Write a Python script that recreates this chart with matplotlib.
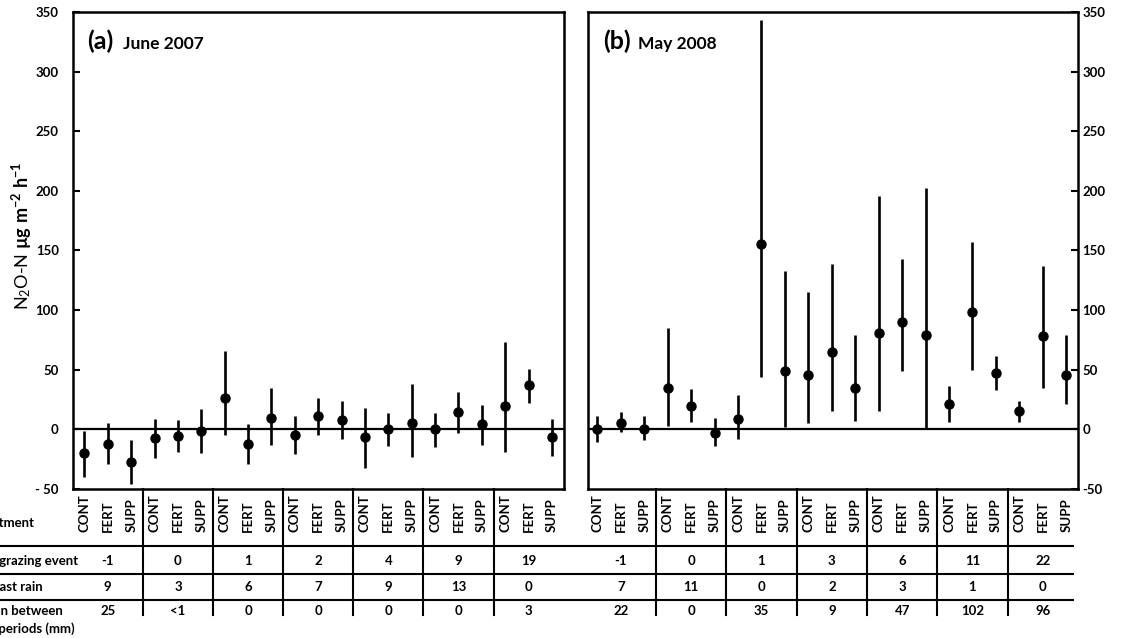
"""N2O-N flux per treatment, June 2007 vs May 2008."""

import matplotlib
matplotlib.use("Agg")
import matplotlib.pyplot as plt
from matplotlib import transforms
from matplotlib.lines import Line2D

plt.rcParams["font.family"] = ["Lato", "DejaVu Sans"]
plt.rcParams["mathtext.fontset"] = "custom"
plt.rcParams["mathtext.rm"] = "Lato"
plt.rcParams["mathtext.bf"] = "Lato:bold"
plt.rcParams["mathtext.it"] = "Lato:italic"

treatments = ["CONT", "FERT", "SUPP"]

june_mean = [-20, -12, -27.6, -7.4, -5.7, -1, 26.7, -12, 9.4, -4.6, 10.8,
             7.7, -6.6, 0.2, 5.2, -0.1, 14.7, 4.3, 19.5, 37.5, -6.5]
june_low = [-40, -29, -46, -24, -18.6, -19.7, -4.6, -28.7, -12.7, -20.6, -4.6,
            -8.3, -32.6, -13.9, -22.8, -15, -2.7, -12.7, -18.6, 22, -22]
june_high = [-1, 5, -9, 8.5, 8, 17.5, 66, 4.6, 35, 10.8, 26,
             24, 17.8, 13.6, 38, 13.6, 31, 20.8, 73, 51, 8.8]

may_mean = [0.2, 5.7, 0.2, 34.3, 19.5, -2.7, 9.1, 155.6, 49.2, 45.8, 64.9,
            35.1, 81.1, 90.3, 79.2, 21.2, 98.7, 47.2, 15.3, 78.3, 46]
may_low = [-10.5, -1.8, -8.8, 3.2, 6.6, -13.6, -8.3, 43.9, 2.4, 5.5, 15.3,
           7.4, 15.3, 48.6, 1.3, 6.3, 49.4, 33.4, 6.3, 34.6, 21]
may_high = [10.8, 14.7, 10.8, 84.7, 33.8, 9.4, 28.7, 343, 133, 115, 139,
            78.8, 196, 143, 202, 36, 157, 61.8, 23.7, 137.4, 79]

june_days_grazing = ["-1", "0", "1", "2", "4", "9", "19"]
june_days_rain = ["9", "3", "6", "7", "9", "13", "0"]
june_rain_mm = ["25", "<1", "0", "0", "0", "0", "3"]

may_days_grazing = ["-1", "0", "1", "3", "6", "11", "22"]
may_days_rain = ["7", "11", "0", "2", "3", "1", "0"]
may_rain_mm = ["22", "0", "35", "9", "47", "102", "96"]

yticks = [-50, 0, 50, 100, 150, 200, 250, 300, 350]

W, H = 1122, 638
BOLD = dict(fontsize=9.5, fontweight="bold")


def fx(px):
    return px / W


def fy(py):
    return 1 - py / H


def panel(ax, mean, low, high, title, date, grazing, rain, rain_mm):
    n = len(mean)
    x = list(range(1, n + 1))
    yerr = [[m - lo for m, lo in zip(mean, low)],
            [hi - m for m, hi in zip(mean, high)]]
    ax.axhline(0, color="black", lw=1.6, zorder=1)
    ax.errorbar(x, mean, yerr=yerr, fmt="o", color="black", ms=6.5,
                elinewidth=1.9, capsize=0, zorder=3)
    ax.set_ylim(-50, 350)
    ax.set_yticks(yticks)
    for s in ax.spines.values():
        s.set_linewidth(1.8)
    ax.set_xticks([])
    ax.text(0.03, 0.922, title, transform=ax.transAxes, fontsize=18,
            fontweight="bold", va="baseline")
    ax.text(0.102, 0.922, date, transform=ax.transAxes, fontsize=12.5,
            fontweight="bold", va="baseline")

    # table under the panel: x follows the data, y is in figure pixels
    tr = transforms.blended_transform_factory(ax.transData, fig.transFigure)
    for i in x:
        ax.text(i, fy(532), treatments[(i - 1) % 3], transform=tr,
                rotation=90, ha="center", va="bottom", **BOLD)
    ngroups = n // 3
    for g in range(1, ngroups):
        b = 3 * g + 0.5
        ax.add_line(Line2D([b, b], [fy(489), fy(615)], transform=tr,
                           color="black", lw=1.5, clip_on=False))
    for g in range(ngroups):
        c = 3 * g + 2
        ax.text(c, fy(561), grazing[g], transform=tr, ha="center",
                va="center", **BOLD)
        ax.text(c, fy(587), rain[g], transform=tr, ha="center",
                va="center", **BOLD)
        ax.text(c, fy(611), rain_mm[g], transform=tr, ha="center",
                va="center", **BOLD)


fig = plt.figure(figsize=(W / 100, H / 100), dpi=100)
ax_a = fig.add_axes([fx(72.7), fy(489), fx(491), (489 - 12) / H])
ax_b = fig.add_axes([fx(588), fy(489), fx(490), (489 - 12) / H])
ax_a.set_xlim(0.5, 21.5)
ax_b.set_xlim(0.6, 21.5)

panel(ax_a, june_mean, june_low, june_high, "(a)", "June 2007",
      june_days_grazing, june_days_rain, june_rain_mm)
panel(ax_b, may_mean, may_low, may_high, "(b)", "May 2008",
      may_days_grazing, may_days_rain, may_rain_mm)

ax_a.set_yticklabels(["- 50"] + [str(v) for v in yticks[1:]], **BOLD)
ax_a.tick_params(axis="y", direction="in", length=5, width=1.5, pad=10)
ax_b.yaxis.tick_right()
ax_b.set_yticklabels([str(v) for v in yticks], **BOLD)
ax_b.tick_params(axis="y", direction="in", length=5, width=1.5, pad=3)

for py in (546, 574, 600):
    fig.add_artist(Line2D([0, fx(1073)], [fy(py), fy(py)], color="black",
                          lw=1.5, transform=fig.transFigure))

fig.text(fx(35), fy(523), "Treatment", ha="right", va="center", **BOLD)
fig.text(fx(78), fy(561), "Days since grazing event", ha="right",
         va="center", **BOLD)
fig.text(fx(43), fy(587), "Days since last rain", ha="right", va="center",
         **BOLD)
fig.text(fx(63), fy(611), "Rain between", ha="right", va="center", **BOLD)
fig.text(fx(75), fy(629), "sampling periods (mm)", ha="right", va="center",
         **BOLD)

fig.text(fx(22), fy(236), r"N$_2$O-N $\mathbf{µg\ m^{-2}\ h^{-1}}$",
         rotation=90, ha="center", va="center", fontsize=13)

fig.savefig("out.png", dpi=100)
